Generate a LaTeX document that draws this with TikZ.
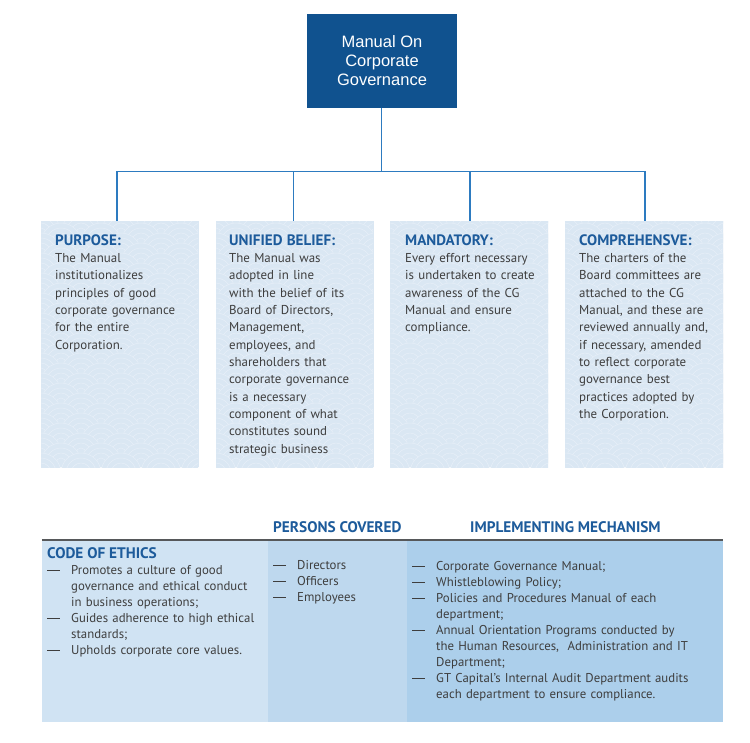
\documentclass[tikz,border=0pt]{standalone}
\usepackage{fontspec}
\setmainfont{PT Sans}
\newfontfamily\arialf{Liberation Sans}
\definecolor{topblue}{HTML}{10528F}
\definecolor{linkblue}{HTML}{2D7BC0}
\definecolor{boxbg}{HTML}{DAE7F3}
\definecolor{scal}{HTML}{E7EFF8}
\definecolor{hdblue}{HTML}{1D5B9B}
\definecolor{bodytxt}{HTML}{3E3E3E}
\definecolor{colA}{HTML}{D0E3F3}
\definecolor{colB}{HTML}{BED8EE}
\definecolor{colC}{HTML}{ACCFEB}
\definecolor{rulegray}{HTML}{56585A}
\newcommand\hdtxt[1]{{\bfseries\fontsize{15.1}{17.35}\selectfont\color{hdblue}#1}}
\newcommand\dsh{\makebox[24pt][l]{\rule[3.7pt]{13pt}{0.55pt}}}
\newcommand\ind{\hspace*{24pt}}
\newcommand\myscallops[4]{%
  \begin{scope}
  \clip (#1,#2) rectangle (#3,#4);
  \foreach \row in {0,...,26}{%
    \pgfmathsetmacro\off{mod(\row,2)*20}%
    \foreach \col in {-1,...,5}{%
      \pgfmathsetmacro\cx{#1+\col*40+\off}%
      \pgfmathsetmacro\cy{#2-\row*10+8}%
      \fill[boxbg] (\cx+20,\cy) arc (0:180:20) -- cycle;
      \draw[scal,line width=0.5pt] (\cx+20,\cy) arc (0:180:20)
        (\cx+15,\cy) arc (0:180:15)
        (\cx+10,\cy) arc (0:180:10)
        (\cx+5,\cy) arc (0:180:5);
    }}
  \end{scope}}
\tikzset{
  topbox/.style={fill=topblue, text=white, minimum width=150pt, minimum height=94pt,
    inner sep=0pt, align=center, font=\arialf\fontsize{16.5}{19}\selectfont},
  infobox/.style={fill=boxbg, minimum width=158pt, minimum height=246pt, inner sep=0pt},
  link/.style={draw=linkblue, line width=1.4pt},
  boxtext/.style={anchor=base west, inner sep=0pt, text width=160pt, align=left,
    text=bodytxt, font=\fontsize{12.9}{17.35}\selectfont},
  tabtext/.style={anchor=base west, inner sep=0pt, text width=310pt, align=left,
    text=bodytxt, font=\fontsize{12.8}{16}\selectfont},
  tabhead/.style={anchor=base west, inner sep=0pt, text=hdblue,
    font=\bfseries\fontsize{15.3}{17}\selectfont},
  cellA/.style={fill=colA, minimum width=226pt, minimum height=181.5pt, inner sep=0pt},
  cellB/.style={fill=colB, minimum width=139pt, minimum height=181.5pt, inner sep=0pt},
  cellC/.style={fill=colC, minimum width=316pt, minimum height=181.5pt, inner sep=0pt},
}
\begin{document}
\begin{tikzpicture}[x=1pt,y=1pt]
\fill[white] (0,0) rectangle (750,-742);
\useasboundingbox (0,0) rectangle (750,-742);

% top node
\node[topbox] (top) at (382,-60.5) {Manual On\\Corporate\\Governance};

% info boxes
\node[infobox] (b1) at (119.5,-344) {};
\node[infobox] (b2) at (294.5,-344) {};
\node[infobox] (b3) at (469,-344) {};
\node[infobox] (b4) at (644,-344) {};
\myscallops{41}{-221}{198}{-467}
\myscallops{216}{-221}{373}{-467}
\myscallops{390}{-221}{548}{-467}
\myscallops{565}{-221}{723}{-467}

% connectors
\coordinate (hub) at (381.5,-171.5);
\draw[link] (top.south -| hub) -- (hub);
\draw[link] ([xshift=-2.5pt]b1.north) |- (hub) -| ([xshift=1pt]b4.north);
\draw[link] ([xshift=-1.2pt]b2.north) -- ++(0,49.5);
\draw[link] ([xshift=1pt]b3.north) -- ++(0,49.5);

% box texts
\node[boxtext] (t1) at (55,-245) {\hdtxt{PURPOSE:}\\The Manual\\institutionalizes\\principles of good\\corporate governance\\for the entire\\Corporation.};
\node[boxtext] (t2) at (229,-245) {\hdtxt{UNIFIED BELIEF:}\\The Manual was\\adopted in line\\with the belief of its\\Board of Directors,\\Management,\\employees, and\\shareholders that\\corporate governance\\is a necessary\\component of what\\constitutes sound\\strategic business};
\node[boxtext] (t3) at (405,-245) {\hdtxt{MANDATORY:}\\Every effort necessary\\is undertaken to create\\awareness of the CG\\Manual and ensure\\compliance.};
\node[boxtext] (t4) at (579,-245) {\hdtxt{COMPREHENSVE:}\\The charters of the\\Board committees are\\attached to the CG\\Manual, and these are\\reviewed annually and,\\if necessary, amended\\to reflect corporate\\governance best\\practices adopted by\\the Corporation.};

% table
\node[cellA] (cA) at (155,-630.75) {};
\node[cellB] (cB) at (337.5,-630.75) {};
\node[cellC] (cC) at (565,-630.75) {};
\draw[draw=rulegray, line width=2.2pt] (cA.north west) -- (cC.north east);

\node[tabhead] (h2) at (273,-532) {PERSONS COVERED};
\node[tabhead] (h3) at (470,-532) {IMPLEMENTING MECHANISM};
\node[tabhead] (h1) at (47,-558) {CODE OF ETHICS};

\node[tabtext] (l1) at (47,-574) {\dsh Promotes a culture of good\\\ind governance and ethical conduct\\\ind in business operations;\\\dsh Guides adherence to high ethical\\\ind standards;\\\dsh Upholds corporate core values.};
\node[tabtext] (l2) at (273,-569) {\dsh Directors\\\dsh Officers\\\dsh Employees};
\node[tabtext] (l3) at (412,-570) {\dsh Corporate Governance Manual;\\\dsh Whistleblowing Policy;\\\dsh Policies and Procedures Manual of each\\\ind department;\\\dsh Annual Orientation Programs conducted by\\\ind the Human Resources,\ \ Administration and IT\\\ind Department;\\\dsh GT Capital’s Internal Audit Department audits\\\ind each department to ensure compliance.};
\end{tikzpicture}
\end{document}
